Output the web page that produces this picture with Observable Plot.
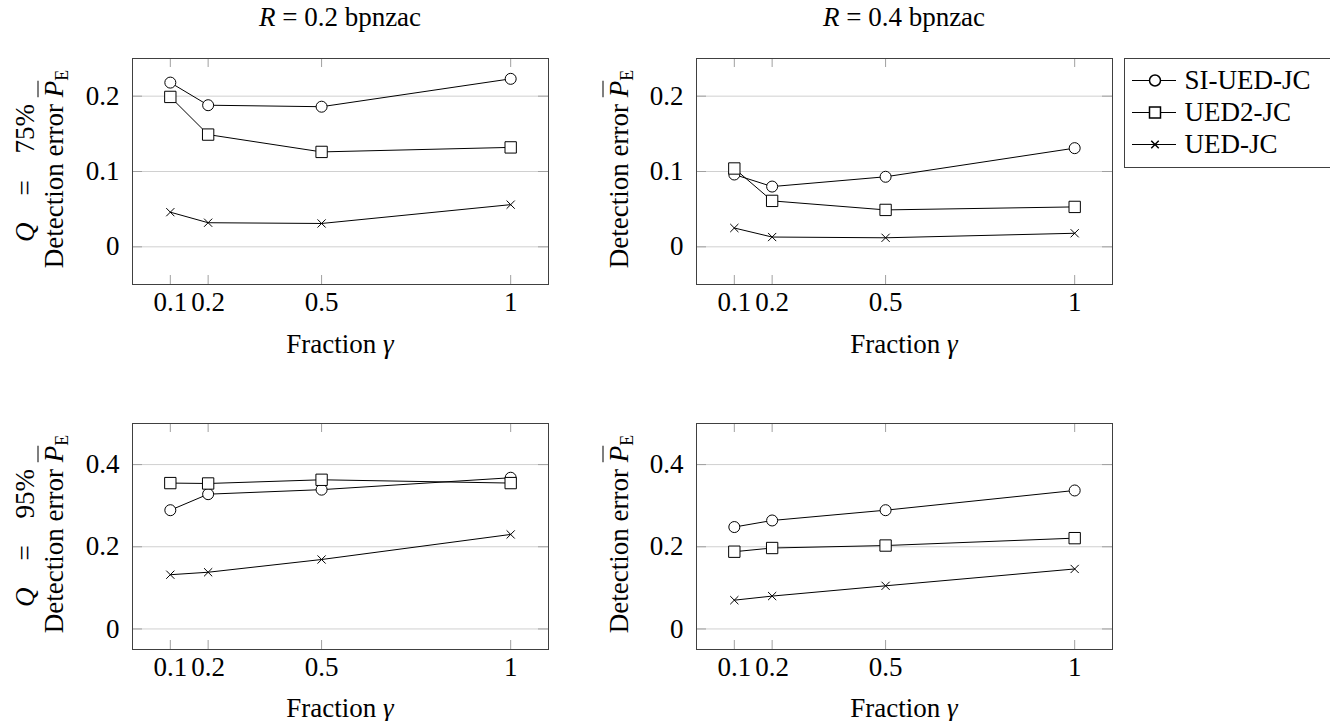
<!DOCTYPE html>
<html>
<head>
<meta charset="utf-8">
<script src="https://cdn.jsdelivr.net/npm/d3@7"></script>
<script src="https://cdn.jsdelivr.net/npm/@observablehq/plot@0.6"></script>
<style>
html,body{margin:0;padding:0;background:#fff;overflow:hidden;}
#root{position:relative;width:1330px;height:721px;overflow:hidden;font-family:"Liberation Serif",serif;color:#000;background:#fff;}
.abs{position:absolute;white-space:nowrap;font-size:27px;line-height:1;}
.c{transform:translate(-50%,-50%);}
.rot{transform:translate(-50%,-50%) rotate(-90deg);}
.ov{text-decoration:overline;text-decoration-thickness:1px;}
.sb{font-size:0.66em;font-style:normal;position:relative;top:0.28em;}
</style>
</head>
<body>
<div id="root"></div>
<script>
// ---- data ----
const fractions = [0.1, 0.2, 0.5, 1];
const seriesNames = ["SI-UED-JC", "UED2-JC", "UED-JC"];
const xTickValues = [0.1, 0.2, 0.5, 1];
const yTicksTop = [0, 0.1, 0.2];
const yTicksBottom = [0, 0.2, 0.4];

// R = 0.2 bpnzac, Q = 75%
const r02q75_si   = [0.218, 0.188, 0.186, 0.223];
const r02q75_ued2 = [0.199, 0.149, 0.126, 0.132];
const r02q75_ued  = [0.046, 0.032, 0.031, 0.056];
// R = 0.4 bpnzac, Q = 75%
const r04q75_si   = [0.096, 0.080, 0.093, 0.131];
const r04q75_ued2 = [0.104, 0.061, 0.049, 0.053];
const r04q75_ued  = [0.025, 0.013, 0.012, 0.018];
// R = 0.2 bpnzac, Q = 95%
const r02q95_si   = [0.289, 0.328, 0.339, 0.368];
const r02q95_ued2 = [0.355, 0.354, 0.363, 0.355];
const r02q95_ued  = [0.132, 0.138, 0.169, 0.230];
// R = 0.4 bpnzac, Q = 95%
const r04q95_si   = [0.248, 0.264, 0.289, 0.337];
const r04q95_ued2 = [0.188, 0.197, 0.203, 0.221];
const r04q95_ued  = [0.070, 0.080, 0.105, 0.146];

const root = document.getElementById("root");
const FONT = '"Liberation Serif", serif';
const FS = 27;

function panel(si, ued2, ued, yDomain, yTicks, frameLeft, frameTop) {
  const data = [];
  fractions.forEach((f, i) => {
    data.push({series: seriesNames[0], f, v: si[i]});
    data.push({series: seriesNames[1], f, v: ued2[i]});
    data.push({series: seriesNames[2], f, v: ued[i]});
  });
  const W = 416, H = 226, mL = 80, mR = 2, mT = 2, mB = 40;
  const chart = Plot.plot({
    width: W + mL + mR, height: H + mT + mB,
    marginLeft: mL, marginRight: mR, marginTop: mT, marginBottom: mB,
    style: {fontFamily: FONT, fontSize: FS + "px", color: "black", background: "transparent", overflow: "visible"},
    x: {domain: [0, 1.1]},
    y: {domain: yDomain},
    marks: [
      Plot.ruleY(yTicks, {stroke: "#d0d0d0", strokeWidth: 1}),
      Plot.ruleX(xTickValues, {insetBottom: H - 9, stroke: "#a0a0a0"}),
      Plot.ruleX(xTickValues, {insetTop: H - 9, stroke: "#a0a0a0"}),
      Plot.ruleY(yTicks, {insetRight: W - 10, stroke: "#a0a0a0"}),
      Plot.ruleY(yTicks, {insetLeft: W - 10, stroke: "#a0a0a0"}),
      Plot.axisX({ticks: xTickValues, tickSize: 0, tickPadding: 7, tickFormat: d => String(d), label: null}),
      Plot.axisY({ticks: yTicks, tickSize: 0, tickPadding: 13, tickFormat: d => String(d), label: null}),
      Plot.line(data, {x: "f", y: "v", z: "series", stroke: "black", strokeWidth: 1}),
      Plot.dot(data.filter(d => d.series === seriesNames[0]), {x: "f", y: "v", symbol: "circle", r: 5.5, fill: "white", stroke: "black", strokeWidth: 1}),
      Plot.dot(data.filter(d => d.series === seriesNames[1]), {x: "f", y: "v", symbol: "square", r: 6.4, fill: "white", stroke: "black", strokeWidth: 1}),
      Plot.dot(data.filter(d => d.series === seriesNames[2]), {x: "f", y: "v", symbol: "times", r: 3.8, fill: "none", stroke: "black", strokeWidth: 1}),
      Plot.frame({stroke: "#404040", strokeWidth: 1})
    ]
  });
  chart.style.position = "absolute";
  chart.style.left = (frameLeft - mL) + "px";
  chart.style.top = (frameTop - mT) + "px";
  root.appendChild(chart);
}

panel(r02q75_si, r02q75_ued2, r02q75_ued, [-0.05, 0.25], yTicksTop, 132, 58);
panel(r04q75_si, r04q75_ued2, r04q75_ued, [-0.05, 0.25], yTicksTop, 696, 58);
panel(r02q95_si, r02q95_ued2, r02q95_ued, [-0.05, 0.5], yTicksBottom, 132, 423);
panel(r04q95_si, r04q95_ued2, r04q95_ued, [-0.05, 0.5], yTicksBottom, 696, 423);

// ---- legend ----
{
  const LW = 240, LH = 111;
  const legend = Plot.plot({
    width: LW, height: LH, marginLeft: 1, marginTop: 1, marginRight: 1, marginBottom: 1,
    style: {fontFamily: FONT, fontSize: FS + "px", color: "black", background: "transparent", overflow: "visible"},
    x: {domain: [0, 1], axis: null},
    y: {type: "point", domain: seriesNames, range: [22, 87], padding: 0, axis: null},
    marks: [
      Plot.frame({stroke: "#404040", strokeWidth: 1}),
      Plot.ruleY(seriesNames, {y: d => d, insetLeft: 8, insetRight: LW - 54, stroke: "black", strokeWidth: 1}),
      Plot.dot([seriesNames[0]], {y: d => d, frameAnchor: "left", dx: 30.5, symbol: "circle", r: 5.5, fill: "white", stroke: "black"}),
      Plot.dot([seriesNames[1]], {y: d => d, frameAnchor: "left", dx: 30.5, symbol: "square", r: 6.2, fill: "white", stroke: "black"}),
      Plot.dot([seriesNames[2]], {y: d => d, frameAnchor: "left", dx: 30.5, symbol: "times", r: 3.5, fill: "none", stroke: "black"}),
      Plot.text(seriesNames, {y: d => d, text: d => d, frameAnchor: "left", dx: 60, textAnchor: "start", fontSize: FS, fill: "black"})
    ]
  });
  legend.style.position = "absolute";
  legend.style.left = "1123px";
  legend.style.top = "57px";
  root.appendChild(legend);
}

// ---- text labels ----
function label(html, x, y, cls) {
  const d = document.createElement("div");
  d.className = "abs " + cls;
  d.style.left = x + "px";
  d.style.top = y + "px";
  d.innerHTML = html;
  root.appendChild(d);
}
const PE = 'Detection error <i class="ov">P</i><span class="sb">E</span>';
label('<i>R</i> = 0.2 bpnzac', 340, 17, "c");
label('<i>R</i> = 0.4 bpnzac', 904, 17, "c");
label('<i>Q</i>&emsp;=&emsp;75%', 25, 173, "rot");
label('<i>Q</i>&emsp;=&emsp;95%', 25, 538, "rot");
label(PE, 54, 169, "rot");
label(PE, 54, 534, "rot");
label(PE, 619, 169, "rot");
label(PE, 619, 534, "rot");
label('Fraction <i>γ</i>', 340, 344, "c");
label('Fraction <i>γ</i>', 904, 344, "c");
label('Fraction <i>γ</i>', 340, 708, "c");
label('Fraction <i>γ</i>', 904, 708, "c");
</script>
</body>
</html>
